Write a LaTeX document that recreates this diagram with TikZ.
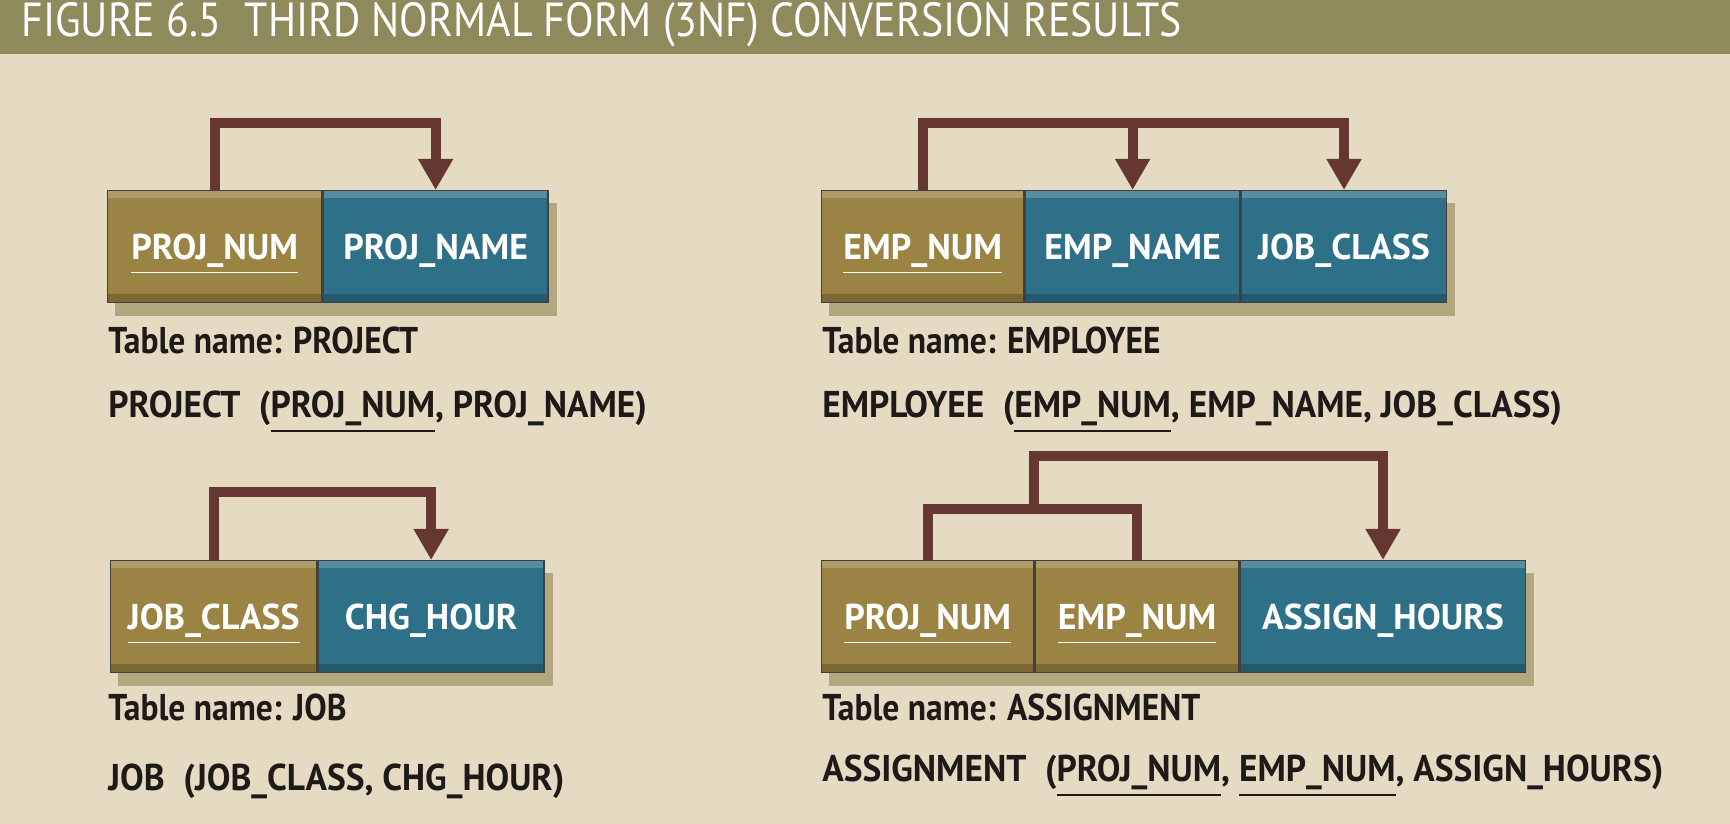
\documentclass[tikz,border=0pt]{standalone}
\usepackage{fontspec}
\setmainfont{PT Sans}
\newfontfamily\titlefont{PT Sans}[FakeStretch=0.875]
\newfontfamily\labelfont{PT Sans}[FakeStretch=0.9]
\newfontfamily\schemafont{PT Sans}[FakeStretch=0.95]
\newfontfamily\boxfont{PT Sans}[FakeStretch=1.0]
\usetikzlibrary{positioning,arrows.meta,shadows}

\definecolor{bgbeige}{HTML}{E5DBC3}
\definecolor{barolive}{HTML}{8E8A5B}
\definecolor{keygold}{HTML}{9A8343}
\definecolor{attteal}{HTML}{2F7089}
\definecolor{depbrown}{HTML}{653730}
\definecolor{shadowtan}{HTML}{B3A780}
\definecolor{inkdark}{HTML}{1E1A17}

\begin{document}
\begin{tikzpicture}[x=1mm, y=-1mm, thick,
    field/.style={minimum height=11.2mm, inner sep=0pt, text=white,
        text height=7.2pt, text depth=0pt,
        draw=black!75, line width=0.4pt,
        font=\boxfont\fontsize{10.2}{12}\selectfont\bfseries,
        drop shadow={shadow xshift=0.8mm, shadow yshift=-1.3mm,
            fill=shadowtan, draw=shadowtan, opacity=1},
        path picture={
            \fill[white, opacity=0.2] (path picture bounding box.north west)
                rectangle ([yshift=-0.7mm]path picture bounding box.north east);
            \fill[black, opacity=0.2] (path picture bounding box.south west)
                rectangle ([yshift=0.9mm]path picture bounding box.south east);
        }},
    keyfield/.style={field, fill=keygold},
    attfield/.style={field, fill=attteal},
    dep/.style={draw=depbrown, line width=1mm, line join=miter},
    deparrow/.style={dep, -{Triangle[length=3.1mm, width=3.3mm]}},
    tablename/.style={anchor=west, inner sep=0pt, text=inkdark,
        font=\labelfont\fontsize{10.6}{12}\selectfont\bfseries},
    schema/.style={tablename, font=\schemafont\fontsize{10.6}{12}\selectfont\bfseries},
]
    \useasboundingbox (0,0) rectangle (173,82.4);
    \fill[bgbeige] (0,0) rectangle (173,82.4);
    \fill[barolive] (0,0) rectangle (173,5.4);
    \node (title) [anchor=west, inner sep=0pt, text=white,
        font=\titlefont\fontsize{13.6}{15}\selectfont] at (2.0,2.5)
        {FIGURE 6.5\hspace{0.5em}THIRD NORMAL FORM (3NF) CONVERSION RESULTS};

% PROJECT
    \node (pnum) [keyfield, minimum width=21.4mm, anchor=north west] at (10.7,19.0) {\underline{PROJ\_NUM}};
    \node (pname) [attfield, minimum width=22.5mm, right=0pt of pnum] {PROJ\_NAME};
    \draw[deparrow] (pnum.north) -- ++(0,-6.7) -| (pname.north);
    \node (ptable) [tablename] at (10.7,34.0) {Table name: PROJECT};
    \node (pschema) [schema] at (10.7,41.2) {PROJECT\hspace{0.5em}(\underline{PROJ\_NUM}, PROJ\_NAME)};

% EMPLOYEE
    \node (enum) [keyfield, minimum width=20.2mm, anchor=north west] at (82.1,19.0) {\underline{EMP\_NUM}};
    \node (ename) [attfield, minimum width=21.5mm, right=0pt of enum] {EMP\_NAME};
    \node (eclass) [attfield, minimum width=20.5mm, right=0pt of ename] {JOB\_CLASS};
    \draw[deparrow] (enum.north) -- ++(0,-6.7) -| (ename.north);
    \draw[deparrow] (enum.north) ++(0,-6.7) -| (eclass.north);
    \node (etable) [tablename] at (82.1,34.0) {Table name: EMPLOYEE};
    \node (eschema) [schema] at (82.1,41.2) {EMPLOYEE\hspace{0.5em}(\underline{EMP\_NUM}, EMP\_NAME, JOB\_CLASS)};

% JOB
    \node (jclass) [keyfield, minimum width=20.6mm, anchor=north west] at (11.0,56.0) {\underline{JOB\_CLASS}};
    \node (jhour) [attfield, minimum width=22.6mm, right=0pt of jclass] {CHG\_HOUR};
    \draw[deparrow] (jclass.north) -- ++(0,-6.8) -| (jhour.north);
    \node (jtable) [tablename] at (10.7,70.7) {Table name: JOB};
    \node (jschema) [schema] at (10.7,78.1) {JOB\hspace{0.5em}(JOB\_CLASS, CHG\_HOUR)};

% ASSIGNMENT
    \node (apnum) [keyfield, minimum width=21.2mm, anchor=north west] at (82.1,56.0) {\underline{PROJ\_NUM}};
    \node (aenum) [keyfield, minimum width=20.4mm, right=0pt of apnum] {\underline{EMP\_NUM}};
    \node (ahours) [attfield, minimum width=28.5mm, right=0pt of aenum] {ASSIGN\_HOURS};
    \draw[dep] (apnum.north) -- ++(0,-5.1) -| (aenum.north);
    \path (apnum.north east) ++(0,-5.1) coordinate (ajoin);
    \draw[deparrow] (ajoin) -- ++(0,-5.3) -| (ahours.north);
    \node (atable) [tablename] at (82.1,70.7) {Table name: ASSIGNMENT};
    \node (aschema) [schema] at (82.1,77.6) {ASSIGNMENT\hspace{0.5em}(\underline{PROJ\_NUM}, \underline{EMP\_NUM}, ASSIGN\_HOURS)};

\end{tikzpicture}
\end{document}
